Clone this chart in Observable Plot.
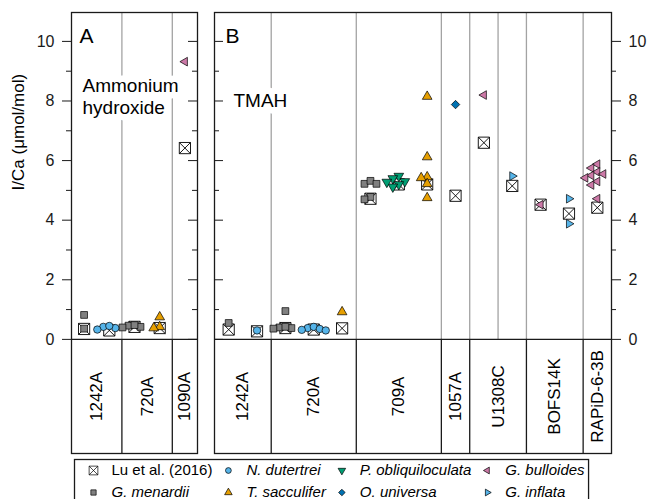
<!DOCTYPE html>
<html><head><meta charset="utf-8">
<script src="https://cdn.jsdelivr.net/npm/d3@7"></script>
<script src="https://cdn.jsdelivr.net/npm/@observablehq/plot@0.6"></script>
<style>
html,body{margin:0;padding:0;background:#fff;overflow:hidden;}
#chart{position:relative;width:648px;height:499px;overflow:hidden;background:#fff;}
#chart svg{position:absolute;overflow:visible;}
</style></head>
<body><div id="chart"></div>
<script>
const FONT = '"Liberation Sans", Arial, Helvetica, sans-serif';

// ---------------- data ----------------
const yMajorTicks = [0, 2, 4, 6, 8, 10];
const yMinorTicks = [1, 3, 5, 7, 9];
const yLabel = "I/Ca (μmol/mol)";

const refName = "Lu et al. (2016)";
const speciesNames = ["G. menardii", "N. dutertrei", "T. sacculifer", "P. obliquiloculata", "O. universa", "G. bulloides", "G. inflata"];
const speciesColors = ["#808080", "#56B4E9", "#E69F00", "#009E73", "#0072B2", "#CC79A7", "#56B4E9"];

// Panel A – ammonium hydroxide cleaning
const sitesA = ["1242A", "720A", "1090A"];
const slotsA = [2, 2, 1];
const luA = [0.35, 0.30, 0.42, 0.38, 6.42];
const speciesA = ["G. menardii", "N. dutertrei", "G. menardii", "T. sacculifer", "G. bulloides"];
const valuesA = [
  [0.82, 0.36],
  [0.42, 0.38, 0.45, 0.33],
  [0.46, 0.42, 0.48, 0.40],
  [0.75, 0.42, 0.38],
  [9.32]
];

// Panel B – TMAH cleaning
const sitesB = ["1242A", "720A", "709A", "1057A", "U1308C", "BOFS14K", "RAPiD-6-3B"];
const slotsB = [2, 3, 3, 1, 2, 2, 1];
const splitSitesB = ["U1308C"];
const luB = [0.33, 0.27, 0.38, 0.33, 0.37, 4.72, 5.20, 5.20, 4.82, 6.60, 5.15, 4.52, 4.22, 4.42];
const speciesB = ["G. menardii", "N. dutertrei", "G. menardii", "N. dutertrei", "T. sacculifer",
  "G. menardii", "P. obliquiloculata", "T. sacculifer", "O. universa", "G. bulloides",
  "G. inflata", "G. bulloides", "G. inflata", "G. bulloides"];
const valuesB = [
  [0.55],
  [0.30],
  [0.95, 0.40, 0.38, 0.42, 0.36],
  [0.38, 0.32, 0.42, 0.35, 0.30],
  [0.92],
  [5.22, 5.32, 5.22, 4.78, 4.70],
  [5.48, 5.40, 5.30, 5.20, 5.12, 5.28],
  [8.15, 6.12, 5.45, 5.42, 5.22, 4.75],
  [7.88],
  [8.20],
  [5.48],
  [4.52],
  [4.72, 3.88],
  [5.88, 5.75, 5.62, 5.55, 5.50, 5.42, 5.30, 5.18, 4.72]
];

const legendOrder = ["Lu et al. (2016)", "N. dutertrei", "P. obliquiloculata", "G. bulloides",
  "G. menardii", "T. sacculifer", "O. universa", "G. inflata"];

// ---------------- symbols ----------------
function polygon(angles, k = 1) {
  return {draw(ctx, size) {
    const R = Math.sqrt(size / Math.PI) * k;
    angles.forEach((a, i) => {
      const t = a * Math.PI / 180, px = R * Math.cos(t), py = R * Math.sin(t);
      i ? ctx.lineTo(px, py) : ctx.moveTo(px, py);
    });
    ctx.closePath();
  }};
}
const symUp = polygon([-90, 30, 150]);
const symDown = polygon([90, 210, 330]);
const symLeft = polygon([180, 300, 60]);
const symRight = polygon([0, 120, 240]);
const symDiamond = polygon([-90, 0, 90, 180]);
const symSquare = polygon([-135, -45, 45, 135], Math.SQRT2);
const symBoxX = {draw(ctx, size) {
  const h = Math.sqrt(size / Math.PI);
  ctx.moveTo(-h, -h); ctx.lineTo(h, -h); ctx.lineTo(h, h); ctx.lineTo(-h, h); ctx.closePath();
  ctx.moveTo(-h, -h); ctx.lineTo(h, h); ctx.moveTo(h, -h); ctx.lineTo(-h, h);
}};
const speciesSymbols = [symSquare, "circle", symUp, symDown, symDiamond, symLeft, symRight];
const speciesR = [3.4, 3.7, 5.6, 5.6, 4.2, 5.0, 5.0];
const style = (name) => {
  if (name === refName) return {symbol: symBoxX, fill: "white", r: 5.6};
  const i = speciesNames.indexOf(name);
  return {symbol: speciesSymbols[i], fill: speciesColors[i], r: speciesR[i]};
};

// ---------------- layout ----------------
const H = 458, MT = 12, MB = 5;            // plot area 12..453
const yTop = 10.97, yBottom = -3.83;       // table occupies the band below zero
const pxPerUnit = (H - MT - MB) / (yTop - yBottom);

function dodge(vals, spacing = 6, minD = 6) {
  const placed = [], out = new Array(vals.length);
  const order = d3.range(vals.length).sort((a, b) => vals[b] - vals[a]);
  for (const i of order) {
    const py = vals[i] * pxPerUnit;
    for (let k = 0; k < 30; k++) {
      const off = (k % 2 ? -1 : 1) * Math.ceil(k / 2) * spacing;
      if (placed.every(p => Math.hypot(p.x - off, p.y - py) >= minD - 1e-6)) {
        out[i] = off; placed.push({x: off, y: py}); break;
      }
    }
  }
  return out;
}

function panel(o) {
  const nSlots = d3.sum(o.slots);
  const plotW = o.width - o.ml - o.mr;
  const pxPerSlot = plotW / nSlots;
  let acc = 0;
  const cells = o.sites.map((s, i) => { const c = {site: s, x1: acc, x2: acc + o.slots[i]}; acc += o.slots[i]; return c; });
  const dividers = cells.slice(0, -1).map(c => c.x2)
    .concat(cells.filter(c => o.split.includes(c.site)).map(c => (c.x1 + c.x2) / 2));
  const luPts = o.lu.map((v, j) => ({x: j + 0.5, y: v}));
  const spPts = o.values.flatMap((vals, j) => {
    const offs = dodge(vals);
    return vals.map((v, i) => ({species: o.species[j], x: j + 0.5 + offs[i] / pxPerSlot, y: v}));
  });
  const left = o.axis === "left";
  const black = "#1a1a1a";
  const marks = [
    Plot.ruleX(dividers, {x: d => d, y1: () => 0, y2: () => yTop, stroke: "#a3a3a3", strokeWidth: 1.3}),
    Plot.text([o.letter], {text: d => d, frameAnchor: "top-left", dx: o.letterDx, dy: 16, fontSize: 21, lineAnchor: "top", textAnchor: "start", fill: "black"}),
    Plot.text([o.method], {text: d => d, frameAnchor: "top-left", dx: o.methodDx, dy: o.methodDy, fontSize: 19, lineHeight: 1.2, lineAnchor: "top", textAnchor: "start", fill: "black", stroke: "white", strokeWidth: 13, strokeLinejoin: "round", paintOrder: "stroke"}),
    Plot.dot(luPts, {x: "x", y: "y", r: 5.6, symbol: symBoxX, fill: "white", stroke: "black", strokeWidth: 0.9}),
    ...speciesNames.map(name => {
      const s = style(name);
      return Plot.dot(spPts.filter(d => d.species === name), {x: "x", y: "y", r: s.r, symbol: s.symbol, fill: s.fill, stroke: "black", strokeWidth: 0.7});
    }),
    Plot.ruleY([0], {stroke: black, strokeWidth: 1.3}),
    Plot.ruleX(cells.slice(0, -1).map(c => c.x2), {x: d => d, y1: () => yBottom, y2: () => 0, stroke: black, strokeWidth: 1.3}),
    Plot.text(cells, {x: d => (d.x1 + d.x2) / 2, y: () => yBottom / 2, text: "site", rotate: -90, fontSize: 17, fill: "black"}),
    Plot.frame({stroke: black, strokeWidth: 1.3}),
    // minor ticks outward on the labelled side
    Plot.tickY(yMinorTicks, left ? {y: d => d, insetLeft: -5, insetRight: plotW, stroke: black}
                                 : {y: d => d, insetRight: -5, insetLeft: plotW, stroke: black}),
    // inward ticks on the opposite side
    Plot.tickY(yMajorTicks, left ? {y: d => d, insetLeft: plotW - 9, stroke: black}
                                 : {y: d => d, insetRight: plotW - 9, stroke: black}),
    Plot.tickY(yMinorTicks, left ? {y: d => d, insetLeft: plotW - 5, stroke: black}
                                 : {y: d => d, insetRight: plotW - 5, stroke: black})
  ];
  if (o.title) marks.push(Plot.text([o.title], {text: d => d, frameAnchor: "left", y: () => (yMajorTicks[0] + yMajorTicks[yMajorTicks.length - 1]) / 2, dx: -53, rotate: -90, fontSize: 17, fill: "black"}));
  const svg = Plot.plot({
    width: o.width, height: H,
    marginLeft: o.ml, marginRight: o.mr, marginTop: MT, marginBottom: MB,
    style: {fontFamily: FONT, fontSize: "16px", background: "transparent", color: black},
    x: {domain: [0, nSlots], axis: null},
    y: {domain: [yBottom, yTop], axis: o.axis, ticks: yMajorTicks, tickSize: 9, tickPadding: 8, tickFormat: d => String(d), label: null},
    marks
  });
  svg.style.left = o.left + "px"; svg.style.top = "0px";
  return svg;
}

const chart = document.getElementById("chart");
chart.appendChild(panel({
  sites: sitesA, slots: slotsA, lu: luA, species: speciesA, values: valuesA, split: [],
  left: 0, width: 205, ml: 71, mr: 8, axis: "left",
  letter: "A", letterDx: 8, method: "Ammonium\nhydroxide", methodDx: 11, methodDy: 63, title: yLabel
}));
chart.appendChild(panel({
  sites: sitesB, slots: slotsB, lu: luB, species: speciesB, values: valuesB, split: splitSitesB,
  left: 205, width: 443, ml: 9, mr: 37, axis: "right",
  letter: "B", letterDx: 11, method: "TMAH", methodDx: 19, methodDy: 78
}));

// ---------------- legend ----------------
const cv = document.createElement("canvas").getContext("2d");
const LFS = 15;
const textW = (s, it) => { cv.font = `${it ? "italic " : ""}${LFS}px "Liberation Sans"`; return cv.measureText(s).width; };
const nCols = 4, symX0 = 93, gapSymText = 18, gapCol = 16, rowY0 = 13, rowGap = 22;
const colX = [];
let cx = symX0;
for (let c = 0; c < nCols; c++) {
  colX.push(cx);
  const w = d3.max(legendOrder.filter((_, i) => i % nCols === c), s => textW(s, s !== refName));
  cx += gapSymText + w + gapCol;
}
const entries = legendOrder.map((label, i) => ({label, sx: colX[i % nCols], tx: colX[i % nCols] + gapSymText, sy: rowY0 + Math.floor(i / nCols) * rowGap}));
const legendRight = d3.max(entries, e => e.tx + textW(e.label, e.label !== refName)) + 4;
const legendSvg = Plot.plot({
  width: 648, height: 52, marginLeft: 74, marginRight: 648 - legendRight, marginTop: 2, marginBottom: 0,
  style: {fontFamily: FONT, background: "transparent"},
  x: {type: "identity", axis: null}, y: {type: "identity", axis: null},
  marks: [
    Plot.frame({stroke: "#1a1a1a", strokeWidth: 1.3}),
    ...entries.map(e => {
      const s = style(e.label);
      return Plot.dot([e], {x: "sx", y: "sy", r: s.r * 0.78, symbol: s.symbol, fill: s.fill, stroke: "black", strokeWidth: 0.7});
    }),
    Plot.text(entries.filter(e => e.label === refName), {x: "tx", y: "sy", text: "label", textAnchor: "start", fontSize: LFS, fill: "black"}),
    Plot.text(entries.filter(e => e.label !== refName), {x: "tx", y: "sy", text: "label", textAnchor: "start", fontSize: LFS, fontStyle: "italic", fill: "black"})
  ]
});
legendSvg.style.left = "0px"; legendSvg.style.top = "457px";
chart.appendChild(legendSvg);
</script>
</body></html>
